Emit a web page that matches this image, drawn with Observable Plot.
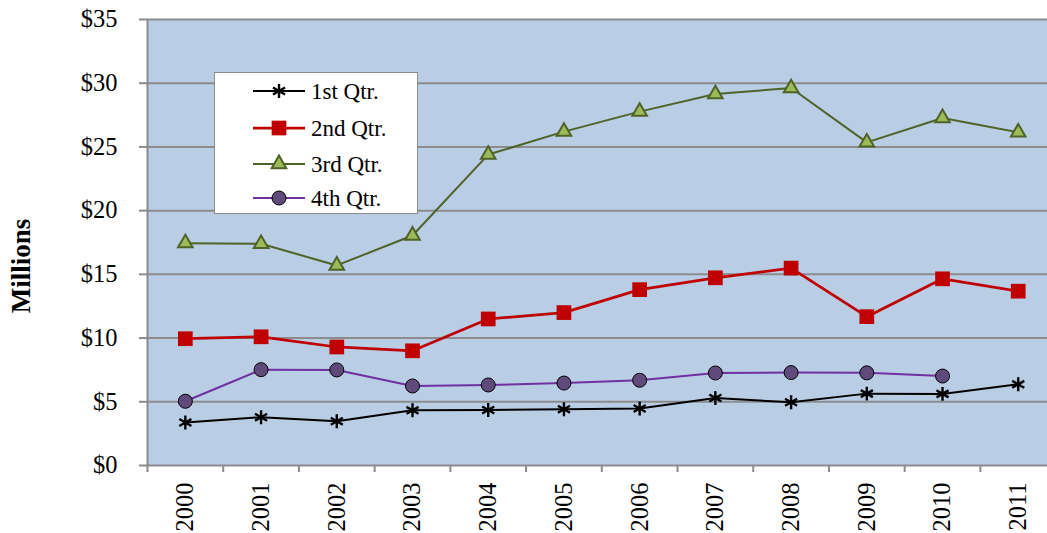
<!DOCTYPE html>
<html>
<head>
<meta charset="utf-8">
<script src="https://cdn.jsdelivr.net/npm/d3@7"></script>
<script src="https://cdn.jsdelivr.net/npm/@observablehq/plot@0.6"></script>
<style>
  html, body { margin: 0; padding: 0; background: #fff; }
  #wrap { position: relative; width: 1047px; height: 533px; overflow: hidden; font-family: "Liberation Serif", "Times New Roman", serif; }
  #chart svg text { font-size: 24.5px; }
  #legend { position: absolute; left: 214px; top: 72px; width: 204px; height: 142px; background: #fff; border: 1px solid #8c8c8c; box-sizing: border-box; }
  #ytitle { position: absolute; left: 21px; top: 266px; transform: translate(-50%, -50%) rotate(-90deg); font-weight: bold; font-size: 27px; white-space: nowrap; color: #000; line-height: 1; }
</style>
</head>
<body>
<div id="wrap"><div id="chart"></div><div id="legend"></div><div id="ytitle"></div></div>
<script>
const years = [2000, 2001, 2002, 2003, 2004, 2005, 2006, 2007, 2008, 2009, 2010, 2011];
const q1 = [3.37, 3.79, 3.47, 4.33, 4.36, 4.41, 4.47, 5.30, 4.96, 5.64, 5.62, 6.37];
const q2 = [9.95, 10.1, 9.3, 9.0, 11.5, 12.0, 13.8, 14.73, 15.49, 11.68, 14.65, 13.68];
const q3 = [17.45, 17.4, 15.7, 18.05, 24.4, 26.2, 27.77, 29.15, 29.62, 25.36, 27.27, 26.15];
const q4 = [5.04, 7.52, 7.5, 6.24, 6.32, 6.47, 6.69, 7.26, 7.29, 7.27, 7.02, null];
const seriesNames = ["1st Qtr.", "2nd Qtr.", "3rd Qtr.", "4th Qtr."];
const yTicks = [0, 5, 10, 15, 20, 25, 30, 35];
const yAxisTitle = "Millions";

const FONT = '"Liberation Serif", "Times New Roman", serif';
const rows = (arr) => years.map((year, i) => ({year, value: arr[i]})).filter(d => d.value != null);
const boundaries = years.map(y => y - 0.5).concat([years[years.length - 1] + 0.5]);

const styles = [
  {line: "#000000", lw: 2, symbol: "asterisk", r: 6.6, fill: "none", stroke: "#000000", sw: 2.4},
  {line: "#C00000", lw: 2.75, symbol: "square", r: 8.3, fill: "#C00000", stroke: "none", sw: 0},
  {line: "#4F6228", lw: 2, symbol: "triangle", r: 5.4, fill: "#9BBB59", stroke: "#4F6228", sw: 2},
  {line: "#7030A0", lw: 2, symbol: "circle", r: 7, fill: "#604A7B", stroke: "#000000", sw: 1}
];
const seriesData = [q1, q2, q3, q4].map(rows);

const marks = [
  Plot.frame({fill: "#B9CDE5", stroke: null}),
  Plot.ruleY(yTicks.filter(d => d > 0), {stroke: "#8c8c8c", strokeWidth: 2}),
  Plot.ruleY([0], {stroke: "#8c8c8c", strokeWidth: 2}),
  Plot.ruleX([boundaries[0]], {stroke: "#8c8c8c", strokeWidth: 2}),
  Plot.axisY(yTicks, {tickFormat: d => "$" + d, tickSize: 8, tickPadding: 22, stroke: "#8c8c8c", strokeWidth: 2, fill: "#000", fontSize: 24, label: null}),
  Plot.axisX(boundaries, {tickFormat: () => "", tickSize: 7, stroke: "#8c8c8c", strokeWidth: 2, label: null}),
  Plot.axisX(years, {tickSize: 0, tickPadding: 17, tickRotate: -90, textAnchor: "end", fill: "#000", fontSize: 24, tickFormat: d => String(d), label: null})
];
seriesData.forEach((data, i) => {
  const s = styles[i];
  marks.push(Plot.line(data, {x: "year", y: "value", stroke: s.line, strokeWidth: s.lw}));
});
seriesData.forEach((data, i) => {
  const s = styles[i];
  marks.push(Plot.dot(data, {x: "year", y: "value", symbol: () => s.symbol, r: s.r, fill: s.fill, stroke: s.stroke, strokeWidth: s.sw}));
});

const chart = Plot.plot({
  width: 1047,
  height: 533,
  marginLeft: 147,
  marginRight: -8.6,
  marginTop: 19,
  marginBottom: 68,
  style: {fontFamily: FONT, background: "transparent", overflow: "hidden"},
  x: {domain: [boundaries[0], boundaries[boundaries.length - 1]], axis: null},
  y: {domain: [0, 35], axis: null},
  symbol: {type: "identity"},
  marks
});
document.getElementById("chart").appendChild(chart);
document.getElementById("ytitle").textContent = yAxisTitle;

// Legend
const leg = d3.select("#legend").append("svg").attr("width", 204).attr("height", 142);
const rowY = [18, 55, 91, 125];
const symMap = {asterisk: d3.symbolAsterisk, square: d3.symbolSquare, triangle: d3.symbolTriangle, circle: d3.symbolCircle};
seriesNames.forEach((name, i) => {
  const s = styles[i];
  const g = leg.append("g").attr("transform", `translate(0,${rowY[i]})`);
  g.append("line").attr("x1", 38).attr("x2", 90).attr("y1", 0).attr("y2", 0).attr("stroke", s.line).attr("stroke-width", s.lw);
  g.append("path").attr("transform", "translate(64,0)")
    .attr("d", d3.symbol(symMap[s.symbol], s.r * s.r * Math.PI)())
    .attr("fill", s.fill).attr("stroke", s.stroke).attr("stroke-width", s.sw);
  g.append("text").attr("x", 96).attr("y", 0).attr("dy", "0.35em")
    .attr("font-family", FONT).attr("font-size", 23).attr("fill", "#000").text(name);
});
</script>
</body>
</html>
